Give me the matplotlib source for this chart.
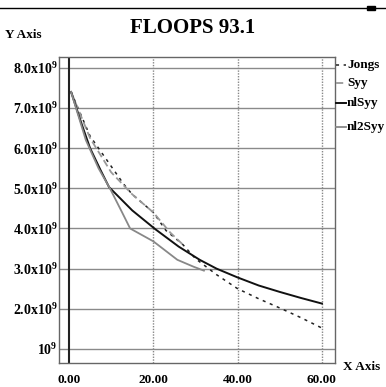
import matplotlib
matplotlib.use("Agg")
import matplotlib.pyplot as plt
from matplotlib.lines import Line2D
from matplotlib.patches import Rectangle

# FLOOPS 93.1 stress curves (values in units of 1e9)
x_jongs = [0.5, 5, 9, 13, 15, 20, 23, 27, 30, 35, 40, 45, 50, 55, 60]
y_jongs = [7.4, 6.3, 5.7, 5.1, 4.85, 4.4, 3.95, 3.6, 3.25, 2.85, 2.5, 2.25, 2.02, 1.78, 1.52]

x_syy = [0.5, 5, 10, 15, 20, 24, 27]
y_syy = [7.4, 6.25, 5.4, 4.85, 4.4, 3.9, 3.6]

x_nlsyy = [0.5, 3, 5, 7.5, 9.5, 15, 20.5, 26, 31, 35, 40, 45, 50, 55, 60]
y_nlsyy = [7.4, 6.6, 6.0, 5.45, 5.03, 4.45, 3.98, 3.55, 3.22, 3.0, 2.78, 2.58, 2.42, 2.27, 2.13]

x_nl2syy = [0.5, 4, 7, 9.8, 12.6, 14.5, 20, 25.7, 29.5, 32]
y_nl2syy = [7.4, 6.2, 5.5, 4.98, 4.4, 4.0, 3.68, 3.22, 3.05, 2.95]

series_names = ["Jongs", "Syy", "nlSyy", "nl2Syy"]

xticks = [0, 20, 40, 60]
xtick_labels = ["0.00", "20.00", "40.00", "60.00"]
yticks = [1, 2, 3, 4, 5, 6, 7, 8]
ytick_labels = [r"$\mathbf{10^9}$"] + [r"$\mathbf{%d.0x10^9}$" % v for v in yticks[1:]]

plt.rcParams["font.family"] = "Liberation Serif"
plt.rcParams["font.weight"] = "bold"
plt.rcParams["mathtext.fontset"] = "custom"
plt.rcParams["mathtext.rm"] = "Liberation Serif:bold"
plt.rcParams["mathtext.bf"] = "Liberation Serif:bold"

fig = plt.figure(figsize=(3.86, 3.87), dpi=100)
ax = fig.add_axes([59 / 386, 24 / 387, 276 / 386, 306 / 387])

ax.set_xlim(-2.37, 63.1)
ax.set_ylim(0.65, 8.27)

# grid
for yv in yticks:
    ax.axhline(yv, color="#8a8a8a", lw=1.0, zorder=1)
for xv in xticks[1:]:
    ax.axvline(xv, color="#888888", lw=1.0, ls=(0, (1, 1)), zorder=1)
ax.axvline(0, color="#222222", lw=1.5, zorder=2)

# curves
styles = [
    dict(color="#222222", lw=1.1, ls=(0, (2, 3))),
    dict(color="#999999", lw=1.3, ls=(0, (4, 2))),
    dict(color="#111111", lw=1.4, ls="-"),
    dict(color="#888888", lw=1.3, ls="-"),
]
xs = [x_jongs, x_syy, x_nlsyy, x_nl2syy]
ys = [y_jongs, y_syy, y_nlsyy, y_nl2syy]
for xd, yd, st in zip(xs, ys, styles):
    ax.plot(xd, yd, zorder=3, **st)

for sp in ax.spines.values():
    sp.set_linestyle((0, (1, 1)))
    sp.set_color("#666666")
    sp.set_linewidth(1.0)

ax.set_xticks(xticks)
ax.set_xticklabels(xtick_labels, fontsize=9.5, fontweight="bold")
ax.set_yticks(yticks)
ax.set_yticklabels(ytick_labels, fontsize=10)
ax.tick_params(length=0, pad=8)
ax.tick_params(axis="y", pad=1)

fig.text(0.5, 1 - 28 / 387, "FLOOPS 93.1", ha="center", va="center",
         fontsize=15, fontweight="bold")
fig.text(5 / 386, 1 - 35 / 387, "Y Axis", ha="left", va="center",
         fontsize=9.5, fontweight="bold")
fig.text(343 / 386, 1 - 367 / 387, "X Axis", ha="left", va="center",
         fontsize=9.5, fontweight="bold")

# top rule with small square
fig.add_artist(Line2D([0, 1], [1 - 8 / 387, 1 - 8 / 387], color="black", lw=1.0))
fig.add_artist(Rectangle((367 / 386, 1 - 10 / 387), 8 / 386, 4 / 387,
                         color="black", transform=fig.transFigure))

# legend
leg_y = [65, 83, 103, 127]
for name, st, py in zip(series_names, styles, leg_y):
    yf = 1 - py / 387
    fig.add_artist(Line2D([336 / 386, 346 / 386], [yf, yf], **st))
    fig.text(347 / 386, yf, name, ha="left", va="center",
             fontsize=9.5, fontweight="bold")

fig.savefig("out.png", dpi=100)
